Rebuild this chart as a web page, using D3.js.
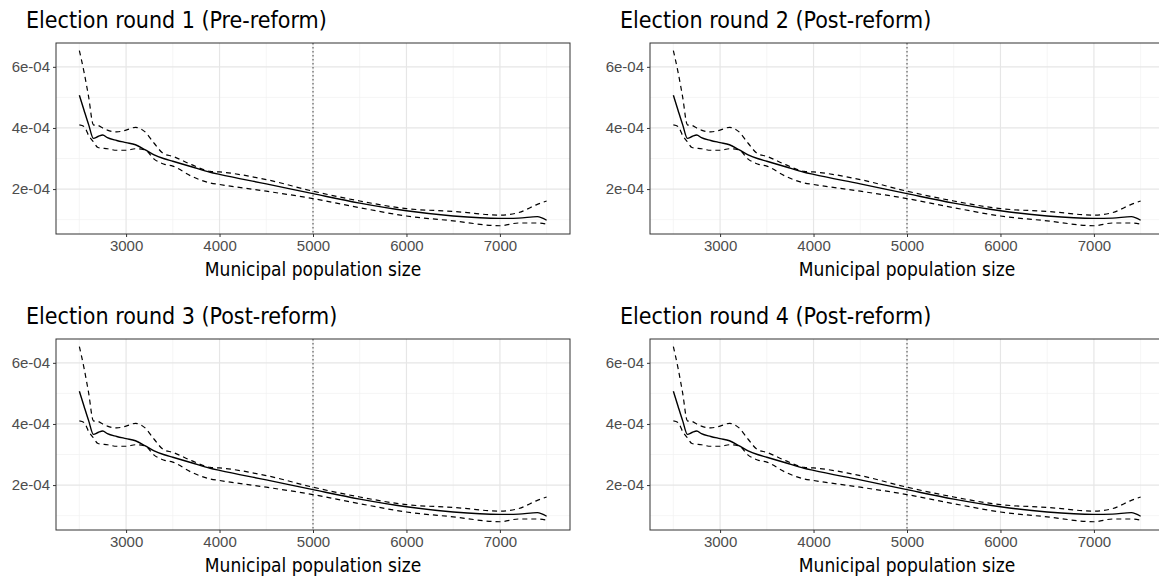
<!DOCTYPE html>
<html><head><meta charset="utf-8">
<script src="https://cdn.jsdelivr.net/npm/d3@7"></script>
<style>body{margin:0;background:#fff}svg{font-family:"DejaVu Sans Condensed","DejaVu Sans",sans-serif;font-stretch:condensed}</style>
</head><body><div id="chart"></div>
<script>
const titles = ['Election round 1 (Pre-reform)', 'Election round 2 (Post-reform)', 'Election round 3 (Post-reform)', 'Election round 4 (Post-reform)'];
const xVals = [2500, 2550, 2600, 2650, 2700, 2750, 2800, 2900, 3000, 3100, 3200, 3300, 3400, 3500, 3700, 3900, 4000, 4500, 5000, 5500, 6000, 6500, 7000, 7200, 7400, 7500];
const estimate = [5.07, 4.58, 4.1, 3.66, 3.72, 3.77, 3.68, 3.59, 3.52, 3.45, 3.29, 3.12, 3.0, 2.91, 2.73, 2.55, 2.48, 2.17, 1.85, 1.54, 1.29, 1.12, 1.04, 1.05, 1.10, 0.98];
const upper = [6.53, 5.83, 5.0, 4.1, 4.08, 4.0, 3.93, 3.87, 3.93, 4.02, 3.88, 3.5, 3.16, 3.07, 2.8, 2.58, 2.56, 2.31, 1.93, 1.61, 1.36, 1.27, 1.15, 1.23, 1.5, 1.61];
const lower = [4.1, 4.05, 3.75, 3.55, 3.36, 3.34, 3.32, 3.27, 3.27, 3.32, 3.29, 2.98, 2.82, 2.75, 2.42, 2.2, 2.15, 1.93, 1.69, 1.39, 1.12, 0.96, 0.8, 0.89, 0.89, 0.85];
const xTicks = [3000, 4000, 5000, 6000, 7000];
const yTicks = [2e-4, 4e-4, 6e-4];
const cutoff = 5000;

const W = 1159, H = 582;
const svg = d3.select('#chart').append('svg').attr('width', W).attr('height', H);
const panels = [[56, 43], [650, 43], [56, 339], [650, 339]];
const pw = 514, ph = 191;

panels.forEach(([px, py], i) => {
  const x = d3.scaleLinear().domain([2250, 7750]).range([0, pw]);
  const y = d3.scaleLinear().domain([0.53e-4, 6.78e-4]).range([ph, 0]);
  const g = svg.append('g').attr('transform', `translate(${px},${py})`);
  svg.append('text').attr('x', px - 30).attr('y', py - 15).attr('font-size', 23).attr('fill', '#000').text(titles[i]);
  // minor grid
  [2500, 3500, 4500, 5500, 6500, 7500].forEach(v => g.append('line').attr('x1', x(v)).attr('x2', x(v)).attr('y1', 0).attr('y2', ph).attr('stroke', '#f0f0f0').attr('stroke-width', 0.7));
  [1e-4, 3e-4, 5e-4].forEach(v => g.append('line').attr('y1', y(v)).attr('y2', y(v)).attr('x1', 0).attr('x2', pw).attr('stroke', '#f0f0f0').attr('stroke-width', 0.7));
  xTicks.forEach(v => g.append('line').attr('x1', x(v)).attr('x2', x(v)).attr('y1', 0).attr('y2', ph).attr('stroke', '#e6e6e6').attr('stroke-width', 1.2));
  yTicks.forEach(v => g.append('line').attr('y1', y(v)).attr('y2', y(v)).attr('x1', 0).attr('x2', pw).attr('stroke', '#e6e6e6').attr('stroke-width', 1.2));
  g.append('line').attr('x1', x(cutoff)).attr('x2', x(cutoff)).attr('y1', 0).attr('y2', ph).attr('stroke', '#444').attr('stroke-dasharray', '1.5,2.5');
  const line = arr => d3.line().x((d, j) => x(xVals[j])).y(d => y(d * 1e-4)).curve(d3.curveMonotoneX)(arr);
  g.append('path').attr('d', line(upper)).attr('fill', 'none').attr('stroke', '#000').attr('stroke-dasharray', '5,4').attr('stroke-width', 1.2);
  g.append('path').attr('d', line(lower)).attr('fill', 'none').attr('stroke', '#000').attr('stroke-dasharray', '5,4').attr('stroke-width', 1.2);
  g.append('path').attr('d', line(estimate)).attr('fill', 'none').attr('stroke', '#000').attr('stroke-width', 1.4);
  g.append('rect').attr('width', pw).attr('height', ph).attr('fill', 'none').attr('stroke', '#333').attr('stroke-width', 1);
  const xa = g.append('g').attr('transform', `translate(0,${ph})`).call(d3.axisBottom(x).tickValues(xTicks).tickSize(3).tickFormat(d3.format('d')));
  const ya = g.append('g').call(d3.axisLeft(y).tickValues(yTicks).tickSize(3).tickFormat(d => (d * 1e4).toFixed(0) + 'e-04'));
  [xa, ya].forEach(a => {
    a.select('.domain').remove();
    a.selectAll('line').attr('stroke', '#333');
    a.selectAll('text').attr('font-size', 15).attr('fill', '#4d4d4d').attr('font-family', 'inherit');
  });
  g.append('text').attr('x', pw / 2).attr('y', ph + 42).attr('text-anchor', 'middle').attr('font-size', 19).text('Municipal population size');
});
</script></body></html>
